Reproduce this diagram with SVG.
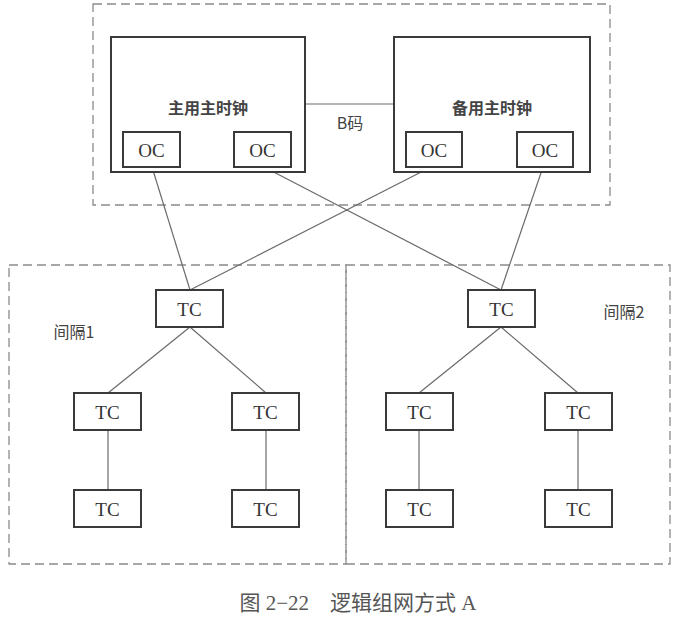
<svg xmlns="http://www.w3.org/2000/svg" width="679" height="619" viewBox="0 0 679 619">
<style>
.dash{fill:none;stroke:#8a8a8a;stroke-width:1.3;stroke-dasharray:9 5}
.big{fill:#fff;stroke:#3a3a3a;stroke-width:2}
.box{fill:#fff;stroke:#3a3a3a;stroke-width:2}
.ln{stroke:#6a6a6a;stroke-width:1.2;fill:none}
.t{font-family:"Liberation Serif",serif;font-size:19px;fill:#333;text-anchor:middle;dominant-baseline:central}
.cn{font-family:"Noto Sans CJK SC",sans-serif;font-size:16px;font-weight:bold;fill:#444;text-anchor:middle;dominant-baseline:central}
.lab{font-family:"Noto Sans CJK SC",sans-serif;font-size:16px;fill:#444;text-anchor:middle;dominant-baseline:central}
.cap{font-family:"Liberation Serif","Noto Sans CJK SC",serif;font-size:21px;fill:#555;text-anchor:middle;dominant-baseline:central}
</style>
<rect width="679" height="619" fill="#fff"/>
<g id="zones">
<rect class="dash" x="93" y="4" width="517" height="201"/>
<rect class="dash" x="9" y="265" width="337" height="299"/>
<rect class="dash" x="346" y="265" width="324" height="299"/>
</g>
<g id="connectors">
<line class="ln" x1="305" y1="104" x2="394" y2="104"/>
<line class="ln" x1="152" y1="167" x2="190" y2="290"/>
<line class="ln" x1="431" y1="167" x2="190" y2="290"/>
<line class="ln" x1="264" y1="167" x2="501" y2="290"/>
<line class="ln" x1="543" y1="167" x2="501" y2="290"/>
<line class="ln" x1="190" y1="327" x2="108" y2="393"/>
<line class="ln" x1="190" y1="327" x2="266" y2="393"/>
<line class="ln" x1="501" y1="327" x2="419" y2="393"/>
<line class="ln" x1="501" y1="327" x2="578" y2="393"/>
<line class="ln" x1="108" y1="430" x2="108" y2="490"/>
<line class="ln" x1="266" y1="430" x2="266" y2="490"/>
<line class="ln" x1="419" y1="430" x2="419" y2="490"/>
<line class="ln" x1="578" y1="430" x2="578" y2="490"/>
</g>
<g id="master-main">
<rect class="big" x="111" y="37" width="194" height="135"/>
<text class="cn" x="208" y="107">主用主时钟</text>
</g>
<g id="oc-main-1"><rect class="box" x="123" y="132" width="57" height="35"/><text class="t" x="151.5" y="150">OC</text></g>
<g id="oc-main-2"><rect class="box" x="234" y="132" width="57" height="35"/><text class="t" x="262.5" y="150">OC</text></g>
<g id="master-backup">
<rect class="big" x="394" y="37" width="196" height="135"/>
<text class="cn" x="492" y="107">备用主时钟</text>
</g>
<g id="oc-backup-1"><rect class="box" x="406" y="132" width="56" height="35"/><text class="t" x="434" y="150">OC</text></g>
<g id="oc-backup-2"><rect class="box" x="517" y="132" width="56" height="35"/><text class="t" x="545" y="150">OC</text></g>
<g id="bcode"><text class="cn" x="350" y="122" style="font-weight:normal">B码</text></g>
<g id="tc-1"><rect class="box" x="156" y="290" width="67" height="37"/><text class="t" x="189.5" y="309">TC</text></g>
<g id="tc-2"><rect class="box" x="468" y="290" width="67" height="37"/><text class="t" x="501.5" y="309">TC</text></g>
<g id="tc-1a"><rect class="box" x="74" y="393" width="67" height="37"/><text class="t" x="107.5" y="412">TC</text></g>
<g id="tc-1b"><rect class="box" x="232" y="393" width="67" height="37"/><text class="t" x="265.5" y="412">TC</text></g>
<g id="tc-2a"><rect class="box" x="386" y="393" width="67" height="37"/><text class="t" x="419.5" y="412">TC</text></g>
<g id="tc-2b"><rect class="box" x="545" y="393" width="67" height="37"/><text class="t" x="578.5" y="412">TC</text></g>
<g id="tc-1a1"><rect class="box" x="74" y="490" width="67" height="37"/><text class="t" x="107.5" y="509">TC</text></g>
<g id="tc-1b1"><rect class="box" x="232" y="490" width="67" height="37"/><text class="t" x="265.5" y="509">TC</text></g>
<g id="tc-2a1"><rect class="box" x="386" y="490" width="67" height="37"/><text class="t" x="419.5" y="509">TC</text></g>
<g id="tc-2b1"><rect class="box" x="545" y="490" width="67" height="37"/><text class="t" x="578.5" y="509">TC</text></g>
<g id="labels">
<text class="lab" x="74" y="331">间隔1</text>
<text class="lab" x="624" y="311">间隔2</text>
</g>
<g id="caption"><text class="cap" x="358" y="603" xml:space="preserve">图 2−22    逻辑组网方式 A</text></g>
</svg>
